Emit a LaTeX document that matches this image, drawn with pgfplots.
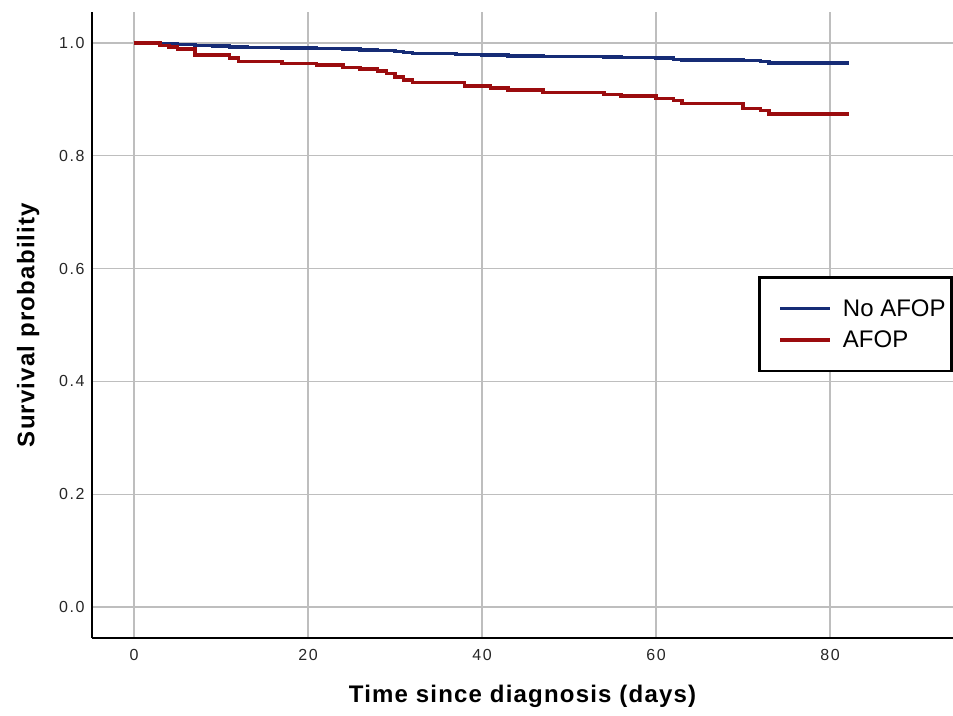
\documentclass[border=0pt]{standalone}
\usepackage{pgfplots}
\pgfplotsset{compat=1.18}
\usepackage{fontspec}
\setmainfont{Liberation Sans}
\definecolor{kmblue}{RGB}{22,44,118}
\definecolor{kmred}{RGB}{155,12,14}
\definecolor{gridgray}{RGB}{190,190,190}

\pgfplotstableread{
t s
0 1.000
3 0.998
5 0.997
7 0.996
9 0.995
11 0.993
13 0.992
17 0.991
21 0.990
24 0.989
26 0.988
28 0.987
30 0.985
31 0.983
32 0.981
37 0.980
40 0.979
43 0.977
47 0.976
54 0.975
56 0.974
60 0.973
62 0.971
63 0.970
70 0.969
72 0.967
73 0.965
82.2 0.965
}\noafop

\pgfplotstableread{
t s
0 1.000
3 0.996
4 0.993
5 0.989
7 0.979
11 0.973
12 0.967
17 0.964
21 0.961
24 0.957
26 0.954
28 0.950
29 0.946
30 0.940
31 0.934
32 0.930
38 0.924
41 0.920
43 0.917
47 0.912
54 0.909
56 0.906
60 0.902
62 0.898
63 0.893
70 0.884
72 0.880
73 0.874
82.2 0.874
}\afop

\begin{document}
\begin{tikzpicture}
% fix the page to the reference's frame
\path[use as bounding box] (-92pt,-77pt) rectangle (861pt,638pt);
\begin{axis}[
    scale only axis,
    width=861pt, height=626pt,
    xmin=-4.83, xmax=94.14,
    ymin=-0.055, ymax=1.055,
    axis lines=left,
    axis line style={-, line width=1.3pt, black},
    xtick={0,20,...,80},
    ytick={0,0.2,...,1.0},
    yticklabel style={/pgf/number format/fixed, /pgf/number format/fixed zerofill, /pgf/number format/precision=1},
    /pgf/number format/assume math mode=true,
    major tick length=0pt,
    tick label style={font=\fontsize{16}{18}\selectfont\addfontfeatures{LetterSpace=10}, text=black!85},
    xticklabel style={yshift=-8pt},
    yticklabel style={xshift=-4pt},
    grid=major,
    major grid style={gridgray, line width=1.2pt},
    xlabel={Time since diagnosis (days)},
    ylabel={Survival probability},
    label style={font=\fontsize{24}{27}\selectfont\bfseries\addfontfeatures{LetterSpace=5}},
    xlabel style={at={(axis description cs:0.5,-0.094)}, anchor=center},
    ylabel style={at={(axis description cs:-0.074,0.5)}, anchor=center, rotate=0},
    legend style={at={(axis description cs:0.7735,0.578)}, anchor=north west,
        draw=black, line width=2.6pt, font=\fontsize{24}{27}\selectfont,
        inner xsep=4pt, inner ysep=20pt, row sep=9pt, column sep=9pt,
        nodes={inner ysep=2pt}},
    legend cell align=left,
    legend image code/.code={\path (0pt,0pt); \draw[#1, line width=3.8pt] (15pt,0pt) -- (65pt,0pt);},
]
\addplot[const plot, kmblue, line width=3.5pt] table[x=t, y=s] {\noafop};
\addlegendentry{No AFOP}
\addplot[const plot, kmred, line width=3.5pt] table[x=t, y=s] {\afop};
\addlegendentry{AFOP}
\end{axis}
\end{tikzpicture}
\end{document}
